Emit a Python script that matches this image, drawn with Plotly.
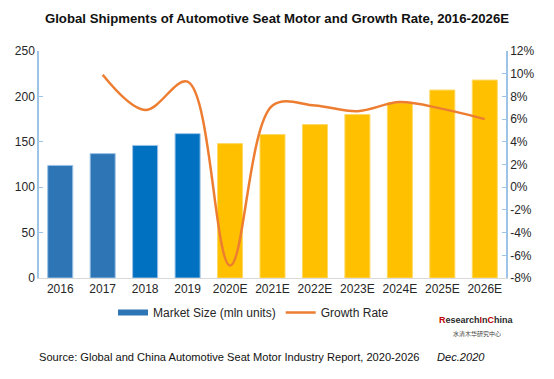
import plotly.graph_objects as go

years = ["2016", "2017", "2018", "2019", "2020E", "2021E", "2022E", "2023E", "2024E", "2025E", "2026E"]
market_size = [124, 137, 146, 159, 148, 158, 169, 180, 193, 207, 218]
growth_rate = [None, 9.9, 6.8, 9.3, -6.9, 7.2, 7.2, 6.7, 7.5, 6.9, 6.0]
bar_colors = ["#2E75B6", "#2E75B6", "#0070C0", "#0070C0"] + ["#FFC000"] * 7
bar_edges = ["#9DC3E6", "#9DC3E6", "#9DC3E6", "#9DC3E6"] + ["#FFD966"] * 7
left_ticks = [0, 50, 100, 150, 200, 250]
right_ticks = list(range(-8, 13, 2))
right_labels = [f"{v}%" for v in right_ticks]

FONT = "Liberation Sans, Arial, sans-serif"
W, H = 546, 371  # page body has an 8px margin inside the 554x379 window

fig = go.Figure()
fig.add_trace(go.Bar(
    x=years, y=market_size, name="Market Size (mln units)",
    marker=dict(color=bar_colors, line=dict(color=bar_edges, width=1)),
    showlegend=False, yaxis="y",
))
fig.add_trace(go.Scatter(
    x=[None], y=[None], mode="lines", name="Market Size (mln units)",
    line=dict(color="#2E75B6", width=6), showlegend=True, yaxis="y",
))
fig.add_trace(go.Scatter(
    x=years, y=growth_rate, mode="lines", name="Growth Rate",
    line=dict(color="#ED7D31", width=2.5, shape="spline", smoothing=1.0),
    connectgaps=False, yaxis="y2",
))

fig.update_layout(
    width=W, height=H,
    margin=dict(l=31, r=48, t=43, b=101, autoexpand=False),
    paper_bgcolor="white", plot_bgcolor="white",
    font=dict(family=FONT, size=12, color="#262626"),
    bargap=0.41,
    showlegend=True,
    legend=dict(orientation="h", xref="container", yref="container",
                x=105 / W, xanchor="left", y=1 - 290 / H, yanchor="top",
                font=dict(size=12, color="#262626"), bgcolor="rgba(0,0,0,0)",
                traceorder="normal"),
    title=dict(text="<b>Global Shipments of Automotive Seat Motor and Growth Rate, 2016-2026E</b>",
               x=269 / W, xanchor="center", xref="container", yref="container",
               y=1 - 10 / H, yanchor="middle",
               font=dict(size=13.2, color="#111111", family=FONT)),
    xaxis=dict(showline=True, linecolor="#D9D9D9", linewidth=1, ticks="",
               tickfont=dict(size=12, color="#262626"), showgrid=False, automargin=False),
    yaxis=dict(range=[0, 250], tickvals=left_ticks, showgrid=False, zeroline=False,
               showline=True, linecolor="#9DC3E6", linewidth=1.5,
               ticks="inside", ticklen=4, tickcolor="#9DC3E6", automargin=False,
               tickfont=dict(size=12, color="#262626")),
    yaxis2=dict(range=[-8, 12], tickvals=right_ticks, ticktext=right_labels, overlaying="y",
                side="right", showgrid=False, zeroline=False,
                showline=True, linecolor="#9DC3E6", linewidth=1.5,
                ticks="inside", ticklen=4, tickcolor="#9DC3E6", automargin=False,
                tickfont=dict(size=12, color="#262626")),
)

fig.add_annotation(
    text="Source: Global and China Automotive Seat Motor Industry Report, 2020-2026",
    xref="paper", yref="paper", x=-0.004, y=-0.348, xanchor="left", yanchor="middle",
    showarrow=False, font=dict(size=11.1, color="#111111", family=FONT))
fig.add_annotation(
    text="<i>Dec.2020</i>",
    xref="paper", yref="paper", x=0.847, y=-0.348, xanchor="left", yanchor="middle",
    showarrow=False, font=dict(size=11.1, color="#111111", family=FONT))
fig.add_annotation(
    text="<b><span style='color:#C00000'>R</span>esearch<span style='color:#C00000'>I</span>n<span style='color:#C00000'>C</span>hina</b>",
    xref="paper", yref="paper", x=0.937, y=-0.185, xanchor="center", yanchor="middle",
    showarrow=False, font=dict(size=9, color="#2a2a2a", family=FONT))
fig.add_annotation(
    text="水清木华研究中心",
    xref="paper", yref="paper", x=0.937, y=-0.243, xanchor="center", yanchor="middle",
    showarrow=False, font=dict(size=6, color="#444444", family="Noto Sans CJK SC"))

fig.write_html("out.html")
